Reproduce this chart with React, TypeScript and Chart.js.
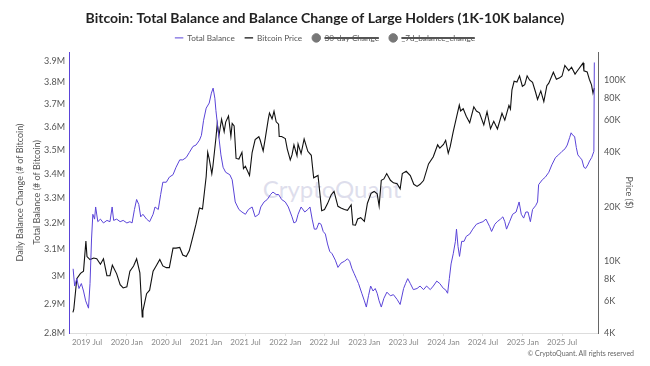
import React, { useEffect, useRef } from 'react';
import { Chart, registerables } from 'chart.js';

Chart.register(...registerables);

const FONT = 'Lato, "Open Sans", sans-serif';
const PURPLE = '#5a44d8';

// Total Balance (millions of BTC)
const balanceDates = [
  '2019-04-28','2019-05-05','2019-05-15','2019-05-25','2019-06-05','2019-06-15','2019-06-25','2019-07-08','2019-07-15','2019-07-22',
  '2019-07-28','2019-08-05','2019-08-10','2019-08-20','2019-09-01','2019-09-15','2019-10-01','2019-10-15','2019-10-25','2019-11-01',
  '2019-11-15','2019-12-01','2019-12-15','2020-01-01','2020-01-15','2020-01-25','2020-02-05','2020-02-15','2020-02-25','2020-03-05',
  '2020-03-15','2020-04-01','2020-04-15','2020-05-01','2020-05-10','2020-05-25','2020-06-05','2020-06-15','2020-07-01','2020-07-15',
  '2020-08-01','2020-08-15','2020-09-01','2020-09-15','2020-10-01','2020-10-15','2020-11-01','2020-11-15','2020-12-01','2020-12-10',
  '2020-12-20','2021-01-01','2021-01-15','2021-01-25','2021-02-02','2021-02-10','2021-02-15','2021-02-25','2021-03-10','2021-03-20',
  '2021-04-01','2021-04-20','2021-05-01','2021-05-15','2021-06-01','2021-06-15','2021-07-01','2021-07-15','2021-08-01','2021-08-15',
  '2021-09-01','2021-09-10','2021-09-25','2021-10-10','2021-10-25','2021-11-05','2021-11-20','2021-12-01','2021-12-15','2022-01-01',
  '2022-01-15','2022-02-01','2022-02-10','2022-02-20','2022-03-01','2022-03-15','2022-04-01','2022-04-15','2022-04-25','2022-05-05',
  '2022-05-15','2022-05-25','2022-06-05','2022-06-15','2022-06-25','2022-07-05','2022-07-15','2022-07-25','2022-08-05','2022-08-20',
  '2022-09-01','2022-09-15','2022-10-01','2022-10-15','2022-10-25','2022-11-05','2022-11-15','2022-11-25','2022-12-05','2022-12-20',
  '2023-01-01','2023-01-10','2023-01-20','2023-01-30','2023-02-10','2023-02-20','2023-03-01','2023-03-10','2023-03-20','2023-04-01',
  '2023-04-15','2023-05-01','2023-05-15','2023-06-01','2023-06-15','2023-07-01','2023-07-10','2023-07-20','2023-08-01','2023-08-15',
  '2023-09-01','2023-09-15','2023-10-01','2023-10-15','2023-11-01','2023-11-15','2023-12-01','2023-12-15','2024-01-01','2024-01-10',
  '2024-01-20','2024-01-28','2024-02-05','2024-02-15','2024-02-25','2024-03-01','2024-03-08','2024-03-15','2024-03-25','2024-04-05',
  '2024-04-15','2024-05-01','2024-05-15','2024-06-01','2024-06-15','2024-07-01','2024-07-15','2024-08-01','2024-08-10','2024-08-25',
  '2024-09-05','2024-09-20','2024-10-01','2024-10-10','2024-10-18','2024-11-01','2024-11-15','2024-12-01','2024-12-15','2024-12-25',
  '2025-01-05','2025-01-15','2025-01-25','2025-02-05','2025-02-15','2025-03-01','2025-03-10','2025-03-15','2025-04-01','2025-04-15',
  '2025-05-01','2025-05-15','2025-06-01','2025-06-15','2025-07-01','2025-07-15','2025-07-25','2025-08-05','2025-08-12','2025-08-20',
  '2025-08-28','2025-09-05','2025-09-12','2025-09-22','2025-10-01','2025-10-10','2025-10-18','2025-10-28','2025-11-05','2025-11-15',
  '2025-11-25','2025-11-27',
];
const balanceValues = [
  3.028,2.965,2.992,2.956,2.974,2.947,2.912,2.886,2.974,3.140,
  3.236,3.217,3.265,3.207,3.217,3.202,3.212,3.207,3.265,3.212,
  3.217,3.207,3.212,3.202,3.207,3.202,3.255,3.295,3.275,3.226,
  3.236,3.217,3.207,3.236,3.265,3.255,3.315,3.365,3.365,3.386,
  3.396,3.427,3.458,3.458,3.468,3.489,3.515,3.521,3.542,3.563,
  3.629,3.683,3.706,3.751,3.774,3.728,3.672,3.585,3.479,3.427,
  3.406,3.396,3.375,3.285,3.255,3.245,3.236,3.255,3.265,3.226,
  3.236,3.265,3.285,3.295,3.315,3.325,3.315,3.315,3.295,3.285,
  3.265,3.226,3.202,3.207,3.236,3.265,3.245,3.255,3.265,3.217,
  3.178,3.178,3.202,3.197,3.169,3.159,3.121,3.093,3.084,3.060,
  3.033,3.049,3.056,3.065,3.056,3.028,3.010,2.992,2.974,2.939,
  2.912,2.890,2.930,2.965,2.947,2.956,2.939,2.912,2.890,2.921,
  2.943,2.930,2.934,2.917,2.899,2.956,2.974,2.992,2.974,2.952,
  2.956,2.965,2.952,2.965,2.952,2.965,2.983,2.974,2.956,2.952,
  2.939,2.992,3.046,3.084,3.131,3.178,3.112,3.074,3.131,3.131,
  3.150,3.159,3.178,3.197,3.202,3.207,3.217,3.188,3.169,3.197,
  3.207,3.217,3.226,3.207,3.178,3.207,3.236,3.245,3.285,3.236,
  3.221,3.245,3.245,3.207,3.255,3.270,3.285,3.355,3.375,3.386,
  3.406,3.437,3.468,3.479,3.494,3.505,3.521,3.553,3.574,3.563,
  3.558,3.510,3.479,3.468,3.458,3.427,3.422,3.437,3.453,3.468,
  3.494,3.894,
];

// Bitcoin Price (USD)
const priceDates = [
  '2019-04-27','2019-05-01','2019-05-15','2019-06-01','2019-06-15','2019-06-26','2019-07-01','2019-07-15','2019-08-01','2019-08-15',
  '2019-09-01','2019-09-15','2019-10-01','2019-10-15','2019-10-26','2019-11-01','2019-11-15','2019-12-01','2019-12-15','2020-01-01',
  '2020-01-15','2020-02-01','2020-02-15','2020-03-01','2020-03-12','2020-03-15','2020-04-01','2020-04-15','2020-05-01','2020-05-15',
  '2020-06-01','2020-06-15','2020-07-01','2020-07-15','2020-08-01','2020-08-15','2020-09-01','2020-09-15','2020-10-01','2020-10-15',
  '2020-11-01','2020-11-15','2020-12-01','2020-12-15','2021-01-01','2021-01-08','2021-01-15','2021-01-27','2021-02-01','2021-02-15',
  '2021-02-21','2021-03-01','2021-03-13','2021-03-25','2021-04-01','2021-04-14','2021-04-25','2021-05-01','2021-05-10','2021-05-19',
  '2021-06-01','2021-06-15','2021-06-22','2021-07-01','2021-07-20','2021-08-01','2021-08-15','2021-09-01','2021-09-07','2021-09-21',
  '2021-10-01','2021-10-15','2021-10-20','2021-11-01','2021-11-10','2021-11-20','2021-12-01','2021-12-04','2021-12-15','2022-01-01',
  '2022-01-10','2022-01-24','2022-02-01','2022-02-10','2022-02-24','2022-03-01','2022-03-15','2022-03-29','2022-04-15','2022-05-01',
  '2022-05-12','2022-06-01','2022-06-18','2022-07-01','2022-07-15','2022-08-01','2022-08-14','2022-09-01','2022-09-15','2022-10-01',
  '2022-10-15','2022-11-01','2022-11-09','2022-11-21','2022-12-01','2022-12-15','2023-01-01','2023-01-15','2023-02-01','2023-02-15',
  '2023-03-01','2023-03-10','2023-03-20','2023-04-01','2023-04-14','2023-05-01','2023-05-15','2023-06-01','2023-06-15','2023-06-25',
  '2023-07-13','2023-08-01','2023-08-17','2023-09-01','2023-09-15','2023-10-01','2023-10-24','2023-11-15','2023-12-05','2023-12-15',
  '2024-01-01','2024-01-11','2024-01-23','2024-02-01','2024-02-15','2024-03-01','2024-03-14','2024-03-20','2024-04-01','2024-04-15',
  '2024-05-01','2024-05-20','2024-06-01','2024-06-15','2024-07-05','2024-07-20','2024-08-05','2024-08-20','2024-09-06','2024-09-27',
  '2024-10-10','2024-10-29','2024-11-05','2024-11-12','2024-11-22','2024-12-05','2024-12-17','2024-12-30','2025-01-10','2025-01-21',
  '2025-02-01','2025-02-15','2025-03-01','2025-03-10','2025-03-25','2025-04-08','2025-04-22','2025-05-01','2025-05-22','2025-06-05',
  '2025-06-20','2025-07-01','2025-07-14','2025-08-01','2025-08-14','2025-08-30','2025-09-15','2025-10-06','2025-10-10','2025-10-25',
  '2025-11-04','2025-11-14','2025-11-21','2025-11-27',
];
const priceValues = [
  5200,5400,8000,8550,8800,12900,10600,10200,10400,10300,
  9600,10300,8300,8300,9500,9200,8500,7400,7100,7200,
  8800,9400,10300,8600,4900,5300,6600,6900,8800,9400,
  10200,9400,9200,9200,11800,11800,11900,10800,10600,11400,
  13700,16000,19700,19400,29400,40000,36800,30400,33500,48000,
  57500,49600,61000,52000,58800,63500,49000,57800,56000,37000,
  36700,40000,32500,33500,29800,39900,47000,48800,46800,40700,
  48100,61500,65900,61300,67500,59000,57200,49000,48900,47700,
  41800,36300,38700,44000,38300,44400,39300,47400,40500,38500,
  28900,29800,19000,19300,20800,23300,24300,20100,19700,19300,
  19100,20500,15900,15800,17100,17400,16600,20900,23700,24300,
  23600,20200,28000,28500,30500,28000,27100,26800,25100,30500,
  31400,29700,26600,25900,26600,27900,34500,37800,44000,42200,
  44200,46600,39500,43000,52000,62400,73000,67800,69700,63400,
  58300,71400,67700,66200,56700,67100,54000,59400,53900,65800,
  60300,72700,69400,88700,98900,98000,106000,92800,94700,106000,
  100600,97500,86000,78500,87500,76300,93500,96500,111000,101500,
  103300,105700,121000,113300,118300,108400,115300,124700,113000,111500,
  101500,94500,85000,90500,
];

const balanceTicks = [2.8, 2.9, 3.0, 3.1, 3.2, 3.3, 3.4, 3.5, 3.6, 3.7, 3.8, 3.9];
const priceTicks = [4000, 6000, 8000, 10000, 20000, 40000, 60000, 80000, 100000];
const xTickDates = [
  '2019-07-01','2020-01-01','2020-07-01','2021-01-01','2021-07-01','2022-01-01','2022-07-01',
  '2023-01-01','2023-07-01','2024-01-01','2024-07-01','2025-01-01','2025-07-01',
];
const xTickLabels = [
  '2019 Jul','2020 Jan','2020 Jul','2021 Jan','2021 Jul','2022 Jan','2022 Jul',
  '2023 Jan','2023 Jul','2024 Jan','2024 Jul','2025 Jan','2025 Jul',
];

const thirtyDayChange: number[] = [];
const sevenDayChange: number[] = [];

export default function App() {
  const ref = useRef<HTMLCanvasElement | null>(null);

  useEffect(() => {
    if (!ref.current) return;
    const chart = new Chart(ref.current, {
      type: 'line',
      data: {
        datasets: [
          {
            label: 'Total Balance',
            data: balanceDates.map((d, i) => ({ x: Date.parse(d), y: balanceValues[i] })),
            borderColor: PURPLE,
            backgroundColor: PURPLE,
            borderWidth: 1,
            pointRadius: 0,
            pointStyle: 'line',
            yAxisID: 'y',
          },
          {
            label: 'Bitcoin Price',
            data: priceDates.map((d, i) => ({ x: Date.parse(d), y: priceValues[i] })),
            borderColor: '#111111',
            backgroundColor: '#111111',
            borderWidth: 1.1,
            pointRadius: 0,
            pointStyle: 'line',
            yAxisID: 'yPrice',
          },
          {
            label: '30-day Change',
            data: thirtyDayChange,
            hidden: true,
            borderColor: '#777777',
            backgroundColor: '#777777',
            pointStyle: 'circle',
            yAxisID: 'yChange',
          },
          {
            label: '_7d_balance_change',
            data: sevenDayChange,
            hidden: true,
            borderColor: '#777777',
            backgroundColor: '#777777',
            pointStyle: 'circle',
            yAxisID: 'yChange',
          },
        ],
      },
      options: {
        responsive: false,
        animation: false,
        devicePixelRatio: 1,
        layout: { padding: { left: 0, right: 0, top: 0, bottom: 11 } },
        plugins: {
          title: {
            display: true,
            text: 'Bitcoin: Total Balance and Balance Change of Large Holders (1K-10K balance)',
            color: '#222',
            font: { family: FONT, size: 14, weight: 'bold' },
            padding: { top: 10, bottom: -3 },
          },
          legend: {
            display: true,
            labels: {
              usePointStyle: true,
              boxHeight: 6,
              color: '#555',
              font: { family: FONT, size: 8.2 },
              padding: 10,
            },
          },
          tooltip: { enabled: false },
        },
        scales: {
          x: {
            type: 'linear',
            min: Date.parse('2019-04-09'),
            max: Date.parse('2025-12-14'),
            afterBuildTicks: (s: any) => {
              s.ticks = xTickDates.map((d) => ({ value: Date.parse(d) }));
            },
            afterFit: (s: any) => {
              s.height = 22;
            },
            ticks: {
              autoSkip: false,
              maxRotation: 0,
              padding: 2,
              color: '#888',
              font: { family: FONT, size: 8 },
              callback: (_v: any, i: number) => xTickLabels[i],
            },
            grid: { display: true, drawOnChartArea: false, tickLength: 3, color: '#e4e4e4' },
            border: { color: '#dddddd' },
          },
          y: {
            type: 'logarithmic',
            position: 'left',
            weight: 0,
            min: 2.8,
            max: 3.944,
            afterBuildTicks: (s: any) => {
              s.ticks = balanceTicks.map((v) => ({ value: v }));
            },
            afterFit: (s: any) => {
              s.width = 41;
            },
            ticks: {
              autoSkip: false,
              padding: 4,
              color: '#555',
              font: { family: FONT, size: 9 },
              callback: (v: any) => `${Math.round(Number(v) * 10) / 10}M`,
            },
            grid: { display: false, drawTicks: false },
            border: { display: true, color: PURPLE, width: 1 },
            title: {
              display: true,
              text: 'Total Balance (# of Bitcoin)',
              color: '#555',
              font: { family: FONT, size: 9 },
              padding: { top: 4, bottom: 0 },
            },
          },
          yChange: {
            type: 'linear',
            position: 'left',
            weight: 1,
            display: true,
            min: -1,
            max: 1,
            afterFit: (s: any) => {
              s.width = 28;
            },
            ticks: { display: false },
            grid: { display: false, drawTicks: false },
            border: { display: false },
            title: {
              display: true,
              text: 'Daily Balance Change (# of Bitcoin)',
              color: '#555',
              font: { family: FONT, size: 9 },
              padding: { top: 15, bottom: 0 },
            },
          },
          yPrice: {
            type: 'logarithmic',
            position: 'right',
            min: 4000,
            max: 143600,
            afterBuildTicks: (s: any) => {
              s.ticks = priceTicks.map((v) => ({ value: v }));
            },
            afterFit: (s: any) => {
              s.width = 52;
            },
            ticks: {
              autoSkip: false,
              padding: 6,
              color: '#555',
              font: { family: FONT, size: 9 },
              callback: (v: any) => `${Number(v) / 1000}K`,
            },
            grid: { display: false, drawTicks: false },
            border: { display: true, color: '#666666', width: 1 },
            title: {
              display: true,
              text: 'Price ($)',
              color: '#555',
              font: { family: FONT, size: 9 },
              padding: { top: 16, bottom: 0 },
            },
          },
        },
      },
    });
    return () => chart.destroy();
  }, []);

  return (
    <div style={{ position: 'absolute', left: 0, top: 0, width: 650, height: 366, background: '#fff', overflow: 'hidden' }}>
      <div
        style={{
          position: 'absolute',
          left: 232,
          top: 174,
          width: 200,
          textAlign: 'center',
          fontFamily: FONT,
          fontSize: 24,
          lineHeight: '30px',
          color: 'rgba(190,190,218,0.5)',
          zIndex: 0,
        }}
      >
        CryptoQuant
      </div>
      <canvas ref={ref} width={650} height={366} style={{ position: 'absolute', left: 0, top: 0, zIndex: 1 }} />
      <div
        style={{
          position: 'absolute',
          right: 16,
          top: 349,
          fontFamily: FONT,
          fontSize: 7,
          lineHeight: '9px',
          color: '#666',
          zIndex: 2,
          whiteSpace: 'nowrap',
        }}
      >
        © CryptoQuant. All rights reserved
      </div>
    </div>
  );
}
